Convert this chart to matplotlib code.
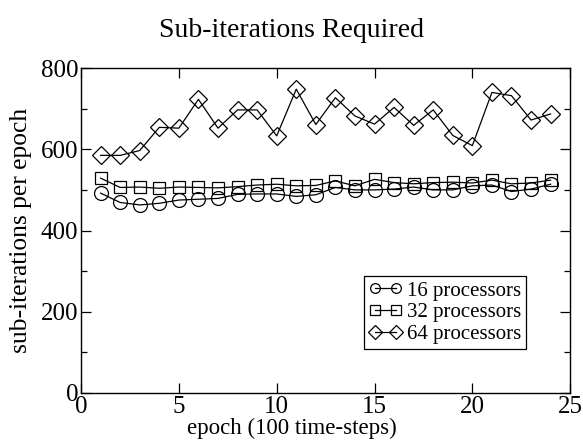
import matplotlib
matplotlib.use("Agg")
import matplotlib.pyplot as plt
from matplotlib.ticker import MultipleLocator

plt.rcParams['font.family'] = ['Liberation Serif', 'DejaVu Serif']
plt.rcParams['mathtext.fontset'] = 'stix'

epochs = list(range(1, 25))
p16 = [492, 469, 463, 467, 475, 477, 479, 489, 490, 490, 484, 488,
       506, 500, 500, 502, 507, 500, 500, 510, 512, 496, 502, 514]
p32 = [529, 506, 507, 504, 507, 506, 505, 508, 512, 514, 510, 511,
       522, 510, 526, 518, 515, 518, 519, 517, 524, 515, 517, 524]
p64 = [585, 585, 597, 654, 652, 723, 652, 697, 697, 633, 748, 661,
       727, 682, 662, 703, 659, 697, 634, 609, 740, 732, 672, 687]

fig = plt.figure(figsize=(5.83, 4.42), dpi=100)
ax = fig.add_axes([0.139, 0.111, 0.839, 0.735])

ax.plot(epochs, p16, "-", color="black", lw=0.9, marker="o", ms=10,
        mfc="none", mec="black", mew=0.9, label="16 processors")
ax.plot(epochs, p32, "-", color="black", lw=0.9, marker="s", ms=9,
        mfc="none", mec="black", mew=0.9, label="32 processors")
ax.plot(epochs, p64, "-", color="black", lw=0.9, marker="D", ms=9,
        mfc="none", mec="black", mew=0.9, label="64 processors")

ax.set_xlim(0, 25)
ax.set_ylim(0, 800)
ax.xaxis.set_major_locator(MultipleLocator(5))
ax.yaxis.set_major_locator(MultipleLocator(200))
ax.yaxis.set_minor_locator(MultipleLocator(100))
ax.tick_params(which="both", direction="in", top=True, right=True,
               labelsize=18, width=0.9)
ax.tick_params(which="major", length=7)
ax.tick_params(which="minor", length=4)
ax.tick_params(axis="x", pad=2)
ax.tick_params(axis="y", pad=2)
for s in ax.spines.values():
    s.set_linewidth(1.0)

ax.set_xlabel("epoch (100 time-steps)", fontsize=16.5)
ax.xaxis.set_label_coords(0.432, -0.078)
ax.set_ylabel("sub-iterations per epoch", fontsize=18.4)
ax.yaxis.set_label_coords(-0.10, 0.5)
fig.suptitle("Sub-iterations Required", fontsize=20, x=0.5, y=0.96)

leg = ax.legend(loc="lower right", bbox_to_anchor=(0.91, 0.135),
                fontsize=15, numpoints=2, fancybox=False, framealpha=1,
                handlelength=1.6, handletextpad=0.2, borderpad=0.25,
                labelspacing=0.1, borderaxespad=0)
leg.get_frame().set_edgecolor("black")
leg.get_frame().set_linewidth(0.9)
for h in leg.legend_handles:
    h.set_markersize(7)

fig.savefig("out.png", dpi=100)
